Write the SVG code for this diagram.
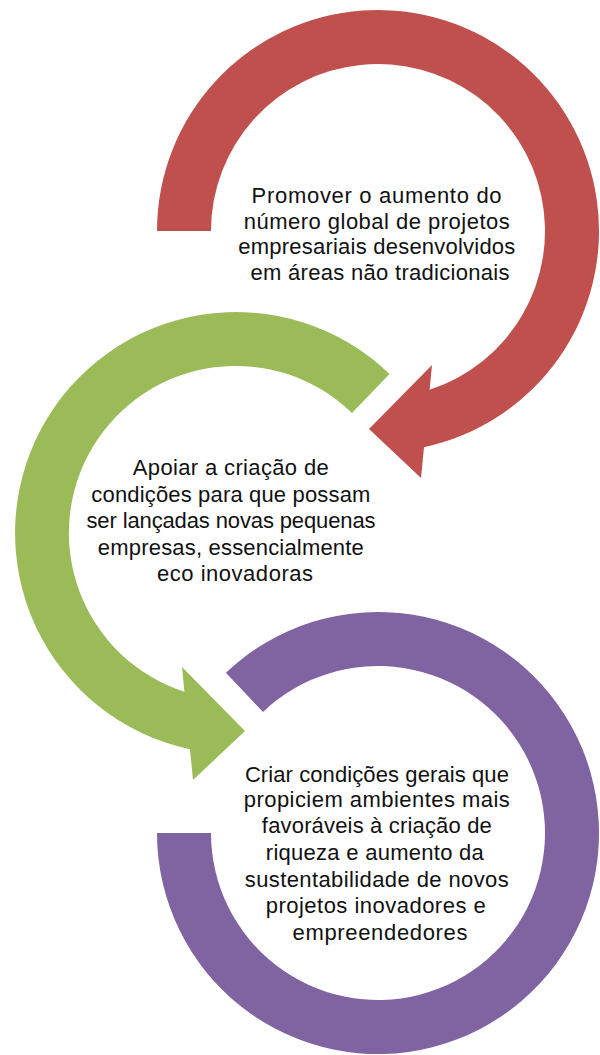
<svg xmlns="http://www.w3.org/2000/svg" width="600" height="1055" viewBox="0 0 600 1055">
  <style>
    .lbl { font-family: "Liberation Sans", Arial, sans-serif; font-size: 22px; fill: #111; text-anchor: middle; }
    .red { fill: #C0504D; }
    .green { fill: #9BBB59; }
    .purple { fill: #8064A2; }
  </style>
  <rect width="600" height="1055" fill="#ffffff"/>
  <g id="node-1">
    <path class="red" d="M157,231 A221,221 0 1 1 424,447.2 L421,478 L369,429 L432,365 L429.6,389.8 A167,167 0 1 0 211,231 Z"/>
    <text class="lbl">
      <tspan x="380" y="203" textLength="250" lengthAdjust="spacing">Promover o aumento do</tspan>
      <tspan x="380" y="228.5" textLength="266" lengthAdjust="spacing">número global de projetos</tspan>
      <tspan x="380" y="254" textLength="277" lengthAdjust="spacing">empresariais desenvolvidos</tspan>
      <tspan x="380" y="280" textLength="259" lengthAdjust="spacing">em áreas não tradicionais</tspan>
    </text>
  </g>
  <g id="node-2">
    <path class="green" d="M389.5,374 A221,221 0 1 0 190,749.2 L193,780 L245,731 L182,667 L184.4,691.8 A167,167 0 1 1 352,412.9 Z"/>
    <text class="lbl">
      <tspan x="234" y="475" textLength="196" lengthAdjust="spacing">Apoiar a criação de</tspan>
      <tspan x="234" y="501.5" textLength="279" lengthAdjust="spacing">condições para que possam</tspan>
      <tspan x="234" y="528" textLength="289" lengthAdjust="spacing">ser lançadas novas pequenas</tspan>
      <tspan x="234" y="554.5" textLength="266" lengthAdjust="spacing">empresas, essencialmente</tspan>
      <tspan x="235" y="581" textLength="156" lengthAdjust="spacing">eco inovadoras</tspan>
    </text>
  </g>
  <g id="node-3">
    <path class="purple" d="M157,833 A221,221 0 1 0 225.9,672.7 L263,711.9 A167,167 0 1 1 211,833 Z"/>
    <text class="lbl">
      <tspan x="380" y="781.5" textLength="264" lengthAdjust="spacing">Criar condições gerais que</tspan>
      <tspan x="380" y="807" textLength="266" lengthAdjust="spacing">propiciem ambientes mais</tspan>
      <tspan x="380" y="833" textLength="230" lengthAdjust="spacing">favoráveis à criação de</tspan>
      <tspan x="378" y="860" textLength="218" lengthAdjust="spacing">riqueza e aumento da</tspan>
      <tspan x="380" y="886.5" textLength="264" lengthAdjust="spacing">sustentabilidade de novos</tspan>
      <tspan x="379" y="913" textLength="220" lengthAdjust="spacing">projetos inovadores e</tspan>
      <tspan x="380" y="940" textLength="175" lengthAdjust="spacing">empreendedores</tspan>
    </text>
  </g>
  <g id="connectors"/>
</svg>
